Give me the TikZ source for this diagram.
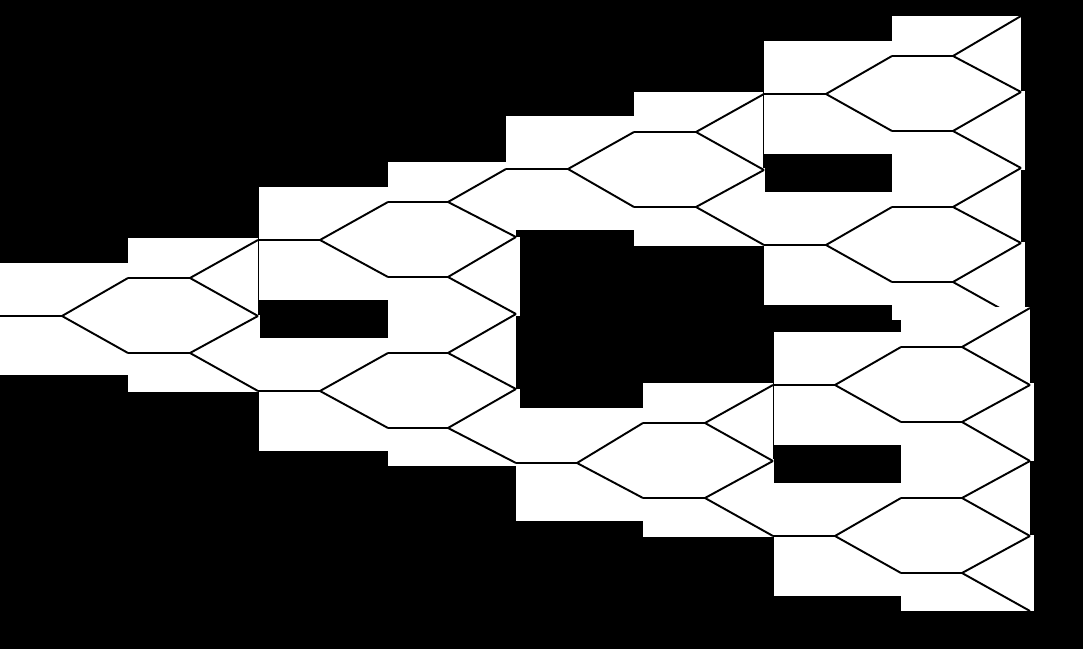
\documentclass[tikz,border=0pt]{standalone}
\usepackage{tikz}
\tikzset{
  nbox/.style={fill=white},
  branch/.style={black, line width=1.1pt},
}
% one split: short stem, then two arms to the children
\newcommand{\branchout}[4]{\draw[branch] (#1) -- ++(#2,0) coordinate (#1-f) -- (#3) (#1-f) -- (#4);}

\begin{document}
\begin{tikzpicture}[x=0.02cm, y=-0.02cm]
\fill[black] (0,0) rectangle (1083,649);
\useasboundingbox (0,0) rectangle (1083,649);

% trunk points
\coordinate (r) at (0,316);
\coordinate (a1) at (128,278);
\coordinate (a2) at (128,353);
\coordinate (b1) at (258,240);
\coordinate (bm) at (258,316);
\coordinate (b2) at (258,391);
\coordinate (c1) at (388,202);
\coordinate (c2) at (388,277);
\coordinate (c3) at (388,353);
\coordinate (c4) at (388,428);
\coordinate (d1) at (506,169);
\coordinate (e1) at (516,237);
\coordinate (e2) at (516,314);
\coordinate (e3) at (516,389);
\coordinate (d2) at (516,463);
% upper half
\coordinate (f1) at (634,132);
\coordinate (f2) at (634,207);
\coordinate (g1) at (764,94);
\coordinate (gm) at (764,170);
\coordinate (g2) at (764,245);
\coordinate (h1) at (892,56);
\coordinate (h2) at (892,131);
\coordinate (h3) at (892,207);
\coordinate (h4) at (892,282);
\coordinate (k0) at (1021,16);
\coordinate (k1) at (1021,92);
\coordinate (k2) at (1021,168);
\coordinate (k3) at (1021,243);
\coordinate (k4) at (1021,320);
% lower half
\coordinate (f3) at (643,423);
\coordinate (f4) at (643,498);
\coordinate (g3) at (773,385);
\coordinate (gn) at (773,461);
\coordinate (g4) at (773,536);
\coordinate (h5) at (901,347);
\coordinate (h6) at (901,422);
\coordinate (h7) at (901,498);
\coordinate (h8) at (901,573);
\coordinate (k5) at (1030,308);
\coordinate (k6) at (1030,385);
\coordinate (k7) at (1030,461);
\coordinate (k8) at (1030,536);
\coordinate (k9) at (1030,611);

% trunk boxes
\fill[nbox] (0,263) rectangle (128,375);
\fill[nbox] (128,315) rectangle (259.5,392);
\fill[nbox] (128,238) rectangle (258.3,347);
\fill[nbox] (259.3,187) rectangle (388,300);
\fill[nbox] (259.3,338) rectangle (388,451);
\fill[nbox] (388,237) rectangle (520,316);
\fill[nbox] (388,162) rectangle (516,272);
\fill[nbox] (388,389) rectangle (520,466);
\fill[nbox] (388,313) rectangle (516,422);

\branchout{r}{62}{a1}{a2}
\branchout{a1}{62}{b1}{bm}
\branchout{a2}{62}{bm}{b2}
\branchout{b1}{62}{c1}{c2}
\branchout{b2}{62}{c3}{c4}
\branchout{c1}{60}{d1}{e1}
\branchout{c2}{60}{e1}{e2}
\branchout{c3}{60}{e2}{e3}
\branchout{c4}{60}{e3}{d2}

% upper boxes
\fill[nbox] (506,116) rectangle (634,230);
\fill[nbox] (634,168) rectangle (764.5,246);
\fill[nbox] (634,92) rectangle (763.3,201);
\fill[nbox] (764.3,41) rectangle (892,154);
\fill[nbox] (764.3,192) rectangle (892,305);
\fill[nbox] (892,91) rectangle (1025,170);
\fill[nbox] (892,16) rectangle (1021,125);
\fill[nbox] (892,242) rectangle (1025,320);
\fill[nbox] (892,167) rectangle (1021,277);

\branchout{d1}{62}{f1}{f2}
\branchout{f1}{62}{g1}{gm}
\branchout{f2}{62}{gm}{g2}
\branchout{g1}{62}{h1}{h2}
\branchout{g2}{62}{h3}{h4}
\branchout{h1}{61}{k0}{k1}
\branchout{h2}{61}{k1}{k2}
\branchout{h3}{61}{k2}{k3}
\branchout{h4}{61}{k3}{k4}

% lower boxes
\fill[nbox] (516,408) rectangle (643,521);
\fill[nbox] (643,459) rectangle (773.7,537);
\fill[nbox] (643,383) rectangle (772.7,492);
\fill[nbox] (773.7,332) rectangle (901,445);
\fill[nbox] (773.7,483) rectangle (901,596);
\fill[nbox] (901,383) rectangle (1034,461);
\fill[nbox] (901,307) rectangle (1030,417);
\fill[nbox] (901,535) rectangle (1034,611);
\fill[nbox] (901,459) rectangle (1030,568);

\branchout{d2}{61}{f3}{f4}
\branchout{f3}{62}{g3}{gn}
\branchout{f4}{62}{gn}{g4}
\branchout{g3}{62}{h5}{h6}
\branchout{g4}{62}{h7}{h8}
\branchout{h5}{61}{k5}{k6}
\branchout{h6}{61}{k6}{k7}
\branchout{h7}{61}{k7}{k8}
\branchout{h8}{61}{k8}{k9}
\end{tikzpicture}
\end{document}
